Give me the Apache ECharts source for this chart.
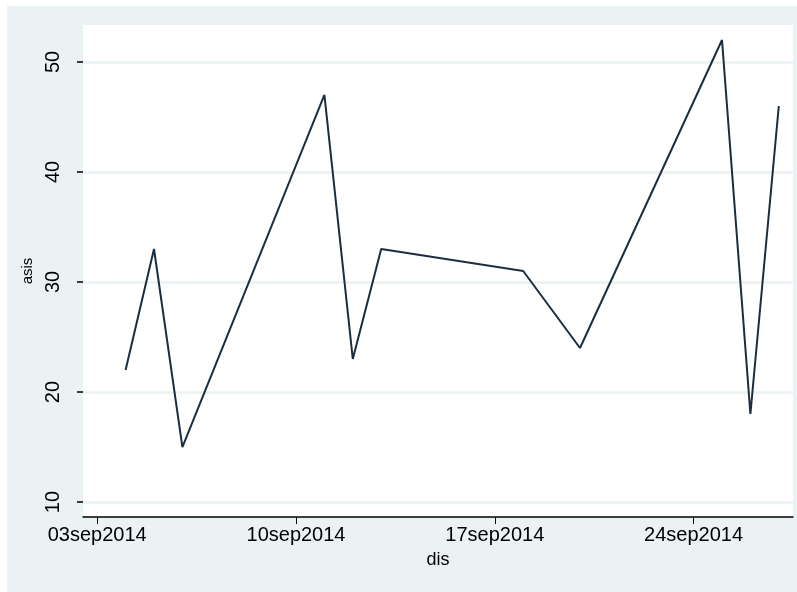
<!DOCTYPE html>
<html>
<head>
<meta charset="utf-8">
<script src="https://cdn.jsdelivr.net/npm/echarts@6/dist/echarts.min.js"></script>
<style>
  body { margin: 0; background: #fff; }
  #wrap { position: relative; width: 797px; height: 592px; }
  #bg { position: absolute; left: 7px; top: 6px; width: 790px; height: 586px; background: #eaf2f3; }
  #main { position: absolute; left: 0; top: 0; width: 797px; height: 592px; }
</style>
</head>
<body>
<div id="wrap"><div id="bg"></div><div id="main"></div></div>
<script>
// daily observations of asis against dis
var dates = ['2014-09-04', '2014-09-05', '2014-09-06', '2014-09-11', '2014-09-12', '2014-09-13',
             '2014-09-18', '2014-09-20', '2014-09-25', '2014-09-26', '2014-09-27'];
var asis = [22, 33, 15, 47, 23, 33, 31, 24, 52, 18, 46];

var yTicks = [10, 20, 30, 40, 50];
var xTicks = ['2014-09-03', '2014-09-10', '2014-09-17', '2014-09-24'];

function toTime(s) {
    var p = s.split('-');
    return new Date(+p[0], +p[1] - 1, +p[2]).getTime();
}
var xTickTimes = xTicks.map(toTime);
var points = dates.map(function (d, i) { return [toTime(d), asis[i]]; });

function stataDate(v) {
    var d = new Date(v);
    var mon = ['jan','feb','mar','apr','may','jun','jul','aug','sep','oct','nov','dec'];
    var dd = d.getDate() < 10 ? '0' + d.getDate() : '' + d.getDate();
    return dd + mon[d.getMonth()] + d.getFullYear();
}

var font = 'Liberation Sans';
var myChart = echarts.init(document.getElementById('main'));

var option = {
    backgroundColor: 'transparent',
    animation: false,
    grid: {
        left: 83, right: 4, top: 25, bottom: 75,
        show: true, backgroundColor: '#ffffff', borderWidth: 0
    },
    xAxis: {
        type: 'value',
        min: new Date(2014, 8, 2, 12).getTime(),
        max: new Date(2014, 8, 27, 12).getTime(),
        name: 'dis',
        nameLocation: 'middle',
        nameGap: 34,
        nameTextStyle: { fontFamily: font, fontSize: 18, color: '#000' },
        axisLine: { show: true, lineStyle: { color: '#000', width: 1.5 } },
        axisTick: { show: true, length: 7, customValues: xTickTimes, lineStyle: { color: '#000' } },
        axisLabel: {
            customValues: xTickTimes,
            formatter: stataDate,
            fontFamily: font, fontSize: 20, color: '#000', margin: 8,
            hideOverlap: false
        },
        splitLine: { show: false }
    },
    yAxis: {
        type: 'value',
        min: 8.64,
        max: 53.36,
        name: 'asis',
        nameLocation: 'middle',
        nameRotate: 90,
        nameGap: 38,
        nameTextStyle: { fontFamily: font, fontSize: 15, color: '#000' },
        axisLine: { show: false },
        axisTick: { show: true, length: 6, customValues: yTicks, lineStyle: { color: '#000', width: 1.5 } },
        axisLabel: {
            customValues: yTicks,
            rotate: 90,
            fontFamily: font, fontSize: 20, color: '#000', margin: 20
        },
        splitLine: { show: true, lineStyle: { color: '#eaf2f3', width: 2.5 } }
    },
    series: [
        {
            name: 'asis',
            type: 'line',
            data: points,
            showSymbol: false,
            symbol: 'none',
            lineStyle: { color: '#1a2e40', width: 2 }
        }
    ]
};

myChart.setOption(option);
</script>
</body>
</html>
